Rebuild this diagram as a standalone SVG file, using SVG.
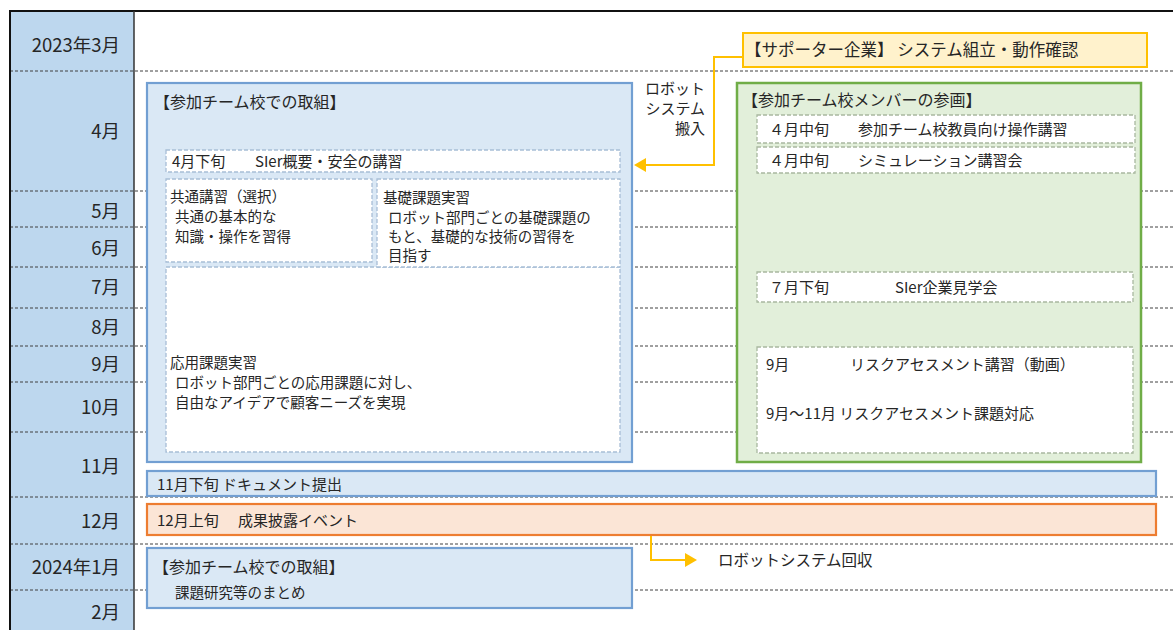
<svg xmlns="http://www.w3.org/2000/svg" width="1173" height="630" viewBox="0 0 1173 630">
<defs>
<style>
text{font-family:"Noto Sans CJK JP","Noto Sans",sans-serif;fill:#262626;}
.m{font-size:18.5px;text-anchor:end;}
.t{font-size:16px;}
.b{font-size:14.5px;}
.g{font-size:15px;}
.row{stroke:#404040;stroke-width:1;stroke-dasharray:3 2;fill:none;}
.blue{fill:#dae8f5;stroke:#729fd2;stroke-width:2.2;}
.green{fill:#e2efda;stroke:#70ad47;stroke-width:2.5;}
.dashb{fill:#ffffff;stroke:#a8bed6;stroke-width:1.3;stroke-dasharray:4 2;}
.dashg{fill:#ffffff;stroke:#a9b8a0;stroke-width:1.3;stroke-dasharray:4 2;}
.yel{stroke:#ffc000;stroke-width:2;fill:none;}
</style>
</defs>
<rect x="0" y="0" width="1173" height="630" fill="#ffffff"/>
<g id="frame">
<rect x="10" y="11" width="124" height="619" fill="#bdd7ee"/>
<g id="rows">
<line class="row" x1="10" y1="71" x2="1173" y2="71"/>
<line class="row" x1="10" y1="191" x2="1173" y2="191"/>
<line class="row" x1="10" y1="227" x2="1173" y2="227"/>
<line class="row" x1="10" y1="267" x2="1173" y2="267"/>
<line class="row" x1="10" y1="308" x2="1173" y2="308"/>
<line class="row" x1="10" y1="346" x2="1173" y2="346"/>
<line class="row" x1="10" y1="382" x2="1173" y2="382"/>
<line class="row" x1="10" y1="432" x2="1173" y2="432"/>
<line class="row" x1="10" y1="497" x2="1173" y2="497"/>
<line class="row" x1="10" y1="544" x2="1173" y2="544"/>
<line class="row" x1="10" y1="590" x2="1173" y2="590"/>
</g>
<line x1="9" y1="11" x2="1173" y2="11" stroke="#111" stroke-width="2"/>
<line x1="10" y1="11" x2="10" y2="630" stroke="#111" stroke-width="2"/>
<line x1="134" y1="11" x2="134" y2="630" stroke="#333" stroke-width="1.5"/>
<g id="months">
<text class="m" x="120" y="52">2023年3月</text>
<text class="m" x="120" y="138">4月</text>
<text class="m" x="120" y="218">5月</text>
<text class="m" x="120" y="255">6月</text>
<text class="m" x="120" y="294">7月</text>
<text class="m" x="120" y="334">8月</text>
<text class="m" x="120" y="371">9月</text>
<text class="m" x="120" y="414">10月</text>
<text class="m" x="120" y="473">11月</text>
<text class="m" x="120" y="528">12月</text>
<text class="m" x="120" y="574">2024年1月</text>
<text class="m" x="120" y="619">2月</text>
</g>
</g>
<g id="team-box">
<rect class="blue" x="147" y="83" width="485" height="379"/>
<text class="t" x="154" y="108">【参加チーム校での取組】</text>
</g>
<g id="sier-lecture">
<rect class="dashb" x="166" y="150" width="454" height="22"/>
<text x="172" y="167" font-size="15">4月下旬</text>
<text x="255" y="167" font-size="15">SIer概要・安全の講習</text>
</g>
<g id="applied">
<rect class="dashb" x="166" y="267" width="454" height="185"/>
<text class="b" x="170" y="368">応用課題実習</text>
<text class="b" x="175" y="388">ロボット部門ごとの応用課題に対し、</text>
<text class="b" x="175" y="408">自由なアイデアで顧客ニーズを実現</text>
</g>
<g id="common">
<rect class="dashb" x="166" y="179" width="206" height="83"/>
<text class="b" x="170" y="202">共通講習（選択）</text>
<text class="b" x="175" y="222">共通の基本的な</text>
<text class="b" x="175" y="242">知識・操作を習得</text>
</g>
<g id="basic">
<rect class="dashb" x="377" y="179" width="243" height="88"/>
<text class="b" x="383" y="203">基礎課題実習</text>
<text class="b" x="388" y="223">ロボット部門ごとの基礎課題の</text>
<text class="b" x="388" y="242">もと、基礎的な技術の習得を</text>
<text class="b" x="388" y="261">目指す</text>
</g>
<g id="supporter">
<rect x="743" y="33" width="404" height="34" fill="#fff2cc" stroke="#ffc000" stroke-width="2"/>
<text x="745" y="56" font-size="16.5">【サポーター企業】 システム組立・動作確認</text>
</g>
<g id="robot-in-label">
<text x="705" y="94" font-size="15" text-anchor="end">ロボット</text>
<text x="705" y="114" font-size="15" text-anchor="end">システム</text>
<text x="705" y="134" font-size="15" text-anchor="end">搬入</text>
</g>
<g id="member-box">
<rect class="green" x="737" y="83" width="404" height="379"/>
<text class="t" x="742" y="106">【参加チーム校メンバーの参画】</text>
</g>
<g id="op-lecture">
<rect class="dashg" x="757" y="115" width="378" height="28"/>
<text class="g" x="769" y="135">４月中旬</text>
<text class="g" x="858" y="135">参加チーム校教員向け操作講習</text>
</g>
<g id="sim-lecture">
<rect class="dashg" x="757" y="147" width="378" height="26"/>
<text class="g" x="769" y="166">４月中旬</text>
<text class="g" x="858" y="166">シミュレーション講習会</text>
</g>
<g id="visit">
<rect class="dashg" x="757" y="272" width="376" height="30"/>
<text class="g" x="769" y="293">７月下旬</text>
<text class="g" x="895" y="293">SIer企業見学会</text>
</g>
<g id="risk">
<rect class="dashg" x="757" y="347" width="376" height="106"/>
<text class="g" x="766" y="370">9月</text>
<text class="g" x="850" y="370">リスクアセスメント講習（動画）</text>
<text class="g" x="766" y="419">9月～11月 リスクアセスメント課題対応</text>
</g>
<g id="document">
<rect class="blue" x="147" y="471" width="1009" height="25"/>
<text class="g" x="157" y="490">11月下旬 ドキュメント提出</text>
</g>
<g id="event">
<rect x="147" y="504" width="1009" height="31" fill="#fbe5d6" stroke="#ed7d31" stroke-width="2.2"/>
<text class="g" x="157" y="526">12月上旬</text>
<text class="g" x="238" y="526">成果披露イベント</text>
</g>
<g id="summary">
<rect class="blue" x="147" y="548" width="485" height="60"/>
<text class="t" x="153" y="573">【参加チーム校での取組】</text>
<text class="b" x="175" y="598">課題研究等のまとめ</text>
</g>
<g id="robot-out-label">
<text x="718" y="566" font-size="15.5">ロボットシステム回収</text>
</g>
<g id="connectors">
<polyline class="yel" points="743,57 714,57 714,165 645,165"/>
<polygon points="634,165 646,158 646,172" fill="#ffc000"/>
<polyline class="yel" points="651,536 651,560 686,560"/>
<polygon points="697,560 685,553 685,567" fill="#ffc000"/>
</g>
</svg>
